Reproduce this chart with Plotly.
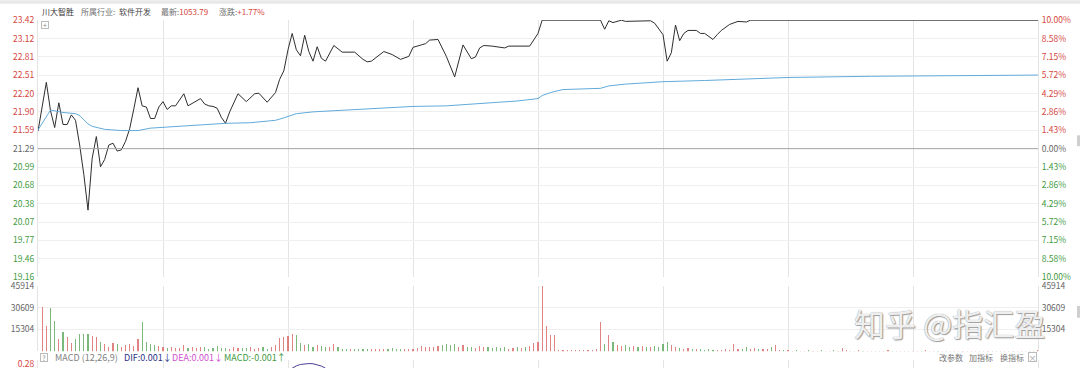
import plotly.graph_objects as go

# ---------------- data ----------------
prev_close = 21.29
price_ticks = ["23.42", "23.12", "22.81", "22.51", "22.20", "21.90", "21.59", "21.29",
               "20.99", "20.68", "20.38", "20.07", "19.77", "19.46", "19.16"]
pct_ticks = ["10.00%", "8.58%", "7.15%", "5.72%", "4.29%", "2.86%", "1.43%", "0.00%",
             "1.43%", "2.86%", "4.29%", "5.72%", "7.15%", "8.58%", "10.00%"]
vol_ticks = ["45914", "30609", "15304"]
macd_ticks = ["0.28"]

# price line (minute index, price)
price_t = [0, 2, 3, 4, 5, 6, 7, 8, 9, 10, 11, 12, 13, 14, 15, 16, 17, 18, 19, 20,
           21, 22, 23, 24, 25, 26, 27, 28, 29, 30, 31, 32, 33, 34, 35, 36, 37, 38, 39, 40,
           41, 42, 43, 44, 45, 46, 48, 50, 52, 53, 55, 57, 58, 59, 60, 61, 62, 63, 64, 65,
           66, 67, 68, 69, 71, 73, 76, 78, 79, 80, 83, 85, 87, 89, 90, 92, 93, 94, 96, 98,
           100, 102, 104, 105, 106, 107, 109, 112, 113, 118, 120, 121, 135, 136, 137, 138, 140, 141, 144, 147,
           148, 150, 151, 152, 153, 154, 155, 156, 158, 159, 160, 162, 163, 164, 166, 168, 170, 171, 240]
price_v = [21.58, 22.39, 21.92, 21.64, 22.05, 21.69, 21.69, 21.85, 21.76, 21.35, 20.86, 20.27, 21.13, 21.49, 20.99, 21.11, 21.35, 21.38, 21.25, 21.27,
           21.41, 21.62, 21.95, 22.30, 22.00, 21.98, 21.79, 21.79, 21.98, 22.07, 21.94, 22.00, 22.00, 22.11, 22.20, 22.00, 22.04, 22.07, 22.12, 22.03,
           22.00, 21.99, 21.96, 21.81, 21.71, 21.90, 22.20, 22.07, 22.20, 22.21, 22.06, 22.22, 22.44, 22.58, 22.93, 23.20, 22.93, 22.83, 23.17, 22.90,
           22.74, 22.98, 22.79, 22.74, 23.00, 22.89, 22.89, 22.77, 22.73, 22.74, 22.90, 22.85, 22.77, 22.82, 22.97, 23.01, 23.03, 23.09, 23.10, 22.82,
           22.48, 23.01, 22.78, 22.81, 22.96, 23.00, 22.99, 22.96, 22.99, 22.99, 23.20, 23.42, 23.42, 23.27, 23.41, 23.38, 23.42, 23.40, 23.40, 23.41,
           23.37, 23.18, 22.74, 22.88, 23.34, 23.08, 23.20, 23.25, 23.25, 23.20, 23.20, 23.10, 23.18, 23.25, 23.35, 23.40, 23.39, 23.42, 23.42]

# average price line
avg_t = [0, 3, 6, 9, 10, 12, 13, 16, 20, 24, 27, 33, 39, 45, 51, 57, 59, 62, 66, 74,
         83, 90, 98, 110, 115, 120, 121, 123, 126, 135, 137, 141, 150, 160, 168, 180, 200, 220, 240]
avg_v = [21.60, 21.93, 21.89, 21.87, 21.84, 21.70, 21.66, 21.61, 21.59, 21.59, 21.63, 21.66, 21.68, 21.71, 21.72, 21.76, 21.80, 21.87, 21.90, 21.93,
         21.96, 21.99, 22.00, 22.05, 22.08, 22.12, 22.17, 22.22, 22.27, 22.29, 22.33, 22.36, 22.40, 22.42, 22.44, 22.47, 22.49, 22.50, 22.51]

# volume per minute
volume = [0, 31500, 17800, 30300, 21200, 8900, 13700, 10500, 5700, 8900,
          12500, 12000, 12000, 11000, 10000, 6800, 5500, 3400, 5700, 5500,
          3400, 4500, 5500, 4000, 8900, 20500, 6800, 5500, 4500, 4000,
          3000, 2500, 3500, 2200, 2800, 4500, 2500, 3000, 2200, 3500,
          3000, 2000, 2500, 4000, 2200, 2800, 2000, 3000, 2400, 2600,
          2200, 3000, 2000, 2500, 3200, 2000, 3500, 4500, 9600, 10000,
          11000, 12500, 11500, 6000, 4500, 5000, 3500, 4500, 4000, 3000,
          3500, 5500, 3000, 2000, 1500, 1800, 1500, 2000, 1500, 1800,
          1500, 2000, 1500, 1800, 1500, 2200, 1500, 1800, 1500, 1800,
          1500, 2500, 4000, 3000, 3500, 3500, 4000, 4500, 5500, 4500,
          5000, 3500, 4500, 3000, 3500, 2500, 4000, 3000, 3500, 2500,
          3000, 2500, 3000, 2000, 2500, 3000, 2500, 3500, 4000, 6000,
          7000, 45914, 17800, 11400, 11400, 1000, 1200, 800, 1000, 800,
          1000, 800, 1000, 1200, 1500, 20500, 5500, 11400, 7000, 4500,
          4000, 4500, 3500, 4000, 3500, 4000, 3500, 3000, 4000, 3000,
          5000, 6500, 4500, 3000, 2500, 2000, 2500, 1500, 2000, 1500,
          1000, 1500, 1000, 1200, 1000, 1500, 1000, 5500, 2000, 1500,
          3000, 1500, 2500, 2000, 1500, 1800, 3000, 4500, 1000, 800,
          800, 700, 800, 600, 700, 800, 600, 700, 800, 700,
          600, 800, 700, 2500, 800, 600, 700, 800, 600, 700,
          600, 700, 500, 600, 800, 500, 600, 700, 500, 600,
          700, 500, 600, 800, 600, 500, 700, 600, 500, 600,
          500, 600, 700, 500, 600, 500, 700, 600, 500, 600,
          600, 500, 700, 600, 500, 600, 700, 500, 600, 500, 800]
# r = up minute, g = down minute
vol_dir = ("rrrggrgrrg" "gggrrgrrrg" "rrrrrggggr" "rgrrrrgrrr" "ggggggrrrg"
           "grrrggrrrr" "rrggrggrgg" "rrgggrgggg" "rrrrggggrr" "rrrrrrrggg"
           "grrggrrrgg" "gggrrgrgrr" "rrrrrrrrrr" "rrrrrrgrgr" "rggrgrgrgg"
           "ggrrgrrgrg" "gggrrrrrrg" "grrgrrgrrg" "rrgrrgrrgr" "rgrrrgrrgr"
           "rrgrrgrrrg" "rrgrrrgrrg" "rrrgrrgrrr" "grrgrrrgrrr")

# MACD DIF visible fragment
dif_t = [61, 62, 63, 64, 65, 66, 67, 68, 69]
dif_v = [0.238, 0.262, 0.276, 0.283, 0.285, 0.283, 0.275, 0.260, 0.238]

# ---------------- styling ----------------
FONT = "Noto Sans CJK SC, Noto Sans, sans-serif"
RED = "#d4463f"
GREEN = "#3f9a3f"
GRAY = "#666666"
GRID = "#e4e4e4"
W, H = 1080, 373
ML, MR, MT, MB = 38, 42, 20, 0
PW = W - ML - MR
PH = H - MT - MB


def px(x):
    return (x - ML) / PW


def py(y):
    return (H - MB - y) / PH


def color_label(txt, k, mid):
    c = RED if k < mid else (GRAY if k == mid else GREEN)
    return f'<span style="color:{c}">{txt}</span>'


hi = float(price_ticks[0])
lo = float(price_ticks[-1])
n = len(price_ticks)
step = (hi - lo) / (n - 1)
price_tv = [hi - k * step for k in range(n)]
mid = n // 2
yr = [lo - 0.003, hi + 0.003]
pct_range = [(v / prev_close - 1) * 100 for v in yr]
pct_tv = [(v / prev_close - 1) * 100 for v in price_tv]

fig = go.Figure()

fig.add_trace(go.Scatter(x=price_t, y=price_v, mode="lines", line=dict(color="#2e2e2e", width=1),
                         xaxis="x", yaxis="y", hoverinfo="skip"))
fig.add_trace(go.Scatter(x=avg_t, y=avg_v, mode="lines", line=dict(color="#62aadb", width=1),
                         xaxis="x", yaxis="y", hoverinfo="skip"))
fig.add_trace(go.Scatter(x=price_t, y=[(v / prev_close - 1) * 100 for v in price_v], mode="lines",
                         line=dict(color="rgba(0,0,0,0)", width=0), xaxis="x", yaxis="y2", hoverinfo="skip"))

vol_colors = ["rgba(218,100,100,0.8)" if d == "r" else "rgba(90,168,90,0.8)" for d in vol_dir]
fig.add_trace(go.Bar(x=list(range(len(volume))), y=volume, width=0.26, marker=dict(color=vol_colors, line=dict(width=0)),
                     xaxis="x2", yaxis="y3", hoverinfo="skip"))
fig.add_trace(go.Scatter(x=list(range(len(volume))), y=volume, mode="lines", line=dict(color="rgba(0,0,0,0)", width=0),
                         xaxis="x2", yaxis="y4", hoverinfo="skip"))
fig.add_trace(go.Scatter(x=dif_t, y=dif_v, mode="lines", line=dict(color="#4a3f95", width=1),
                         xaxis="x3", yaxis="y5", hoverinfo="skip"))

vol_max = float(vol_ticks[0])
d_price = [py(281), 1]
d_vol = [py(356), py(289.5)]
d_macd = [0, py(365)]

xcommon = dict(range=[0, 240], showgrid=True, gridcolor=GRID, gridwidth=1, tick0=0, dtick=30,
               showticklabels=False, zeroline=False, ticks="", showline=False, fixedrange=True)
ycommon = dict(zeroline=False, ticks="", showline=True, linecolor=GRID, mirror=True,
               tickfont=dict(family=FONT, size=8.5, color=GRAY), ticklabelstandoff=1, fixedrange=True)

fig.update_layout(
    width=W, height=H, margin=dict(l=ML, r=MR, t=MT, b=MB),
    paper_bgcolor="white", plot_bgcolor="white", showlegend=False, bargap=0,
    font=dict(family=FONT, size=9, color=GRAY),
    xaxis=dict(**xcommon, domain=[0, 1], anchor="y"),
    xaxis2=dict(**xcommon, domain=[0, 1], anchor="y3", matches="x"),
    xaxis3=dict(**xcommon, domain=[0, 1], anchor="y5", matches="x"),
    yaxis=dict(**ycommon, domain=d_price, range=yr, tickvals=price_tv,
               ticktext=[color_label(t, k, mid) for k, t in enumerate(price_ticks)],
               showgrid=True, gridcolor="#efefef", anchor="x", side="left"),
    yaxis2=dict(**ycommon, domain=d_price, range=pct_range, tickvals=pct_tv,
                ticktext=[color_label(t, k, mid) for k, t in enumerate(pct_ticks)],
                showgrid=False, overlaying="y", side="right", anchor="x"),
    yaxis3=dict(**ycommon, domain=d_vol, range=[0, vol_max * 1.001],
                tickvals=[float(v) for v in vol_ticks], ticktext=vol_ticks,
                showgrid=True, gridcolor="#efefef", anchor="x2", side="left"),
    yaxis4=dict(**ycommon, domain=d_vol, range=[0, vol_max * 1.001],
                tickvals=[float(v) for v in vol_ticks], ticktext=vol_ticks,
                showgrid=False, overlaying="y3", side="right", anchor="x2"),
    yaxis5=dict(**ycommon, domain=d_macd, range=[0.24, 0.32],
                tickvals=[float(v) for v in macd_ticks],
                ticktext=[f'<span style="color:{RED}">{t}</span>' for t in macd_ticks],
                showgrid=False, anchor="x3", side="left"),
)

# zero (previous close) line
fig.add_shape(type="line", xref="x", yref="y", x0=0, x1=240, y0=prev_close, y1=prev_close,
              line=dict(color="#a5a5a5", width=1))
# top grey strip
fig.add_shape(type="rect", xref="paper", yref="paper", x0=px(0), x1=px(W), y0=py(3.5), y1=py(0),
              fillcolor="#e8e8e8", line=dict(width=0), layer="above")
# small right-edge scroll handles
for y0, y1 in [(137, 148), (310, 322)]:
    fig.add_shape(type="rect", xref="paper", yref="paper", x0=px(1077), x1=px(1080), y0=py(y1), y1=py(y0),
                  fillcolor="#cfcfcf", line=dict(width=0))


def note(text, x, y, color, size=8, anchor="left", **kw):
    fig.add_annotation(text=text, x=px(x), y=py(y), xref="paper", yref="paper", showarrow=False,
                       xanchor=anchor, yanchor="middle", font=dict(family=FONT, size=size, color=color), **kw)


# header
note("川大智胜", 40, 11.5, "#333333")
note("所属行业:", 79, 11.5, "#707070")
note("软件开发", 117, 11.5, "#444444")
note(f'最新:<span style="color:{RED}">1053.79</span>', 159, 11.5, "#707070")
note(f'涨跌:<span style="color:{RED}">+1.77%</span>', 217, 11.5, "#707070")
# [+] box
note("+", 45, 25.5, "#888888", size=7, anchor="center", bordercolor="#bbbbbb", borderwidth=1, borderpad=0,
     bgcolor="white", width=6, height=6)

# MACD row
note("?", 44, 362, "#888888", size=7, anchor="center", bordercolor="#bbbbbb", borderwidth=1, borderpad=0,
     bgcolor="white", width=6, height=7)
note("MACD (12,26,9)", 53, 362, "#808080", size=9)
note("DIF:0.001↓", 122, 362, "#2b2f86", size=9)
note("DEA:0.001↓", 170, 362, "#cf4fcf", size=9)
note("MACD:-0.001↑", 222, 362, GREEN, size=9)
note("改参数", 937, 362, "#777777", size=8)
note("加指标", 967, 362, "#777777", size=8)
note("换指标", 998, 362, "#777777", size=8)
note("×", 1032.5, 362, "#999999", size=8, anchor="center", bordercolor="#bbbbbb", borderwidth=1, borderpad=0,
     bgcolor="white", width=7, height=8)

# watermark
fig.add_annotation(text="知乎 @指汇盈", x=px(852), y=py(327), xref="paper", yref="paper", showarrow=False,
                   xanchor="left", yanchor="middle",
                   font=dict(family=FONT, size=31, color="rgba(250,250,250,0.92)",
                             shadow="0px 0px 1px #777, 1px 1px 1px #999"))

fig.write_html("out.html")
